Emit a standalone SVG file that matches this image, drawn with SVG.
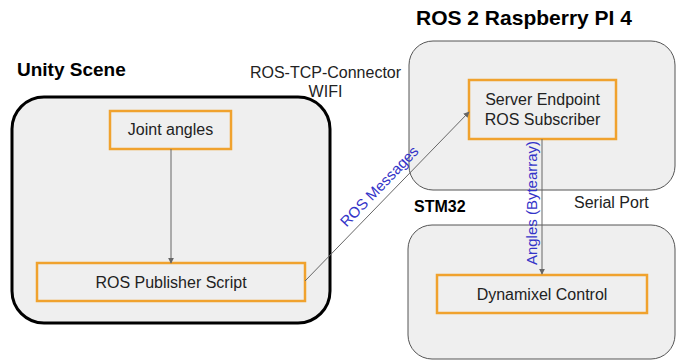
<svg xmlns="http://www.w3.org/2000/svg" width="691" height="362" viewBox="0 0 691 362">
<style>
text{font-family:"Liberation Sans",Arial,sans-serif;fill:#222}
.title{font-weight:bold;fill:#000}
.node rect{fill:#efefef;stroke:#f0a22e;stroke-width:2.5}
.nt{font-size:16px;text-anchor:middle}
.lbl{font-size:16px}
.blue{fill:#3434c8;font-size:15px;text-anchor:middle}
.conn{stroke:#666;stroke-width:1;fill:none;marker-end:url(#ah)}
</style>
<defs>
<marker id="ah" viewBox="0 0 8 8" refX="7" refY="4" markerWidth="6" markerHeight="6" orient="auto" markerUnits="userSpaceOnUse">
<path d="M0,0 L8,4 L0,8 z" fill="#666"/>
</marker>
</defs>
<rect width="691" height="362" fill="#fff"/>
<g id="unity-scene">
<rect x="12" y="97" width="318" height="226" rx="32" fill="#efefef" stroke="#000" stroke-width="3"/>
<text class="title" x="17" y="76" font-size="19">Unity Scene</text>
</g>
<g id="raspberry-pi">
<rect x="409" y="41" width="266" height="149" rx="24" fill="#efefef" stroke="#555" stroke-width="1"/>
<text class="title" x="416" y="25" font-size="21">ROS 2 Raspberry PI 4</text>
</g>
<g id="stm32">
<rect x="408" y="225" width="267" height="134" rx="24" fill="#efefef" stroke="#555" stroke-width="1"/>
<text class="title" x="414" y="212" font-size="16">STM32</text>
</g>
<g id="joint-angles" class="node">
<rect x="110" y="111" width="121" height="38"/>
<text class="nt" x="170.5" y="135">Joint angles</text>
</g>
<g id="ros-publisher" class="node">
<rect x="37" y="263" width="268" height="38"/>
<text class="nt" x="171" y="288">ROS Publisher Script</text>
</g>
<g id="server-endpoint" class="node">
<rect x="469" y="80" width="147" height="59"/>
<text class="nt" x="542.5" y="105">Server Endpoint</text>
<text class="nt" x="542.5" y="125">ROS Subscriber</text>
</g>
<g id="dynamixel" class="node">
<rect x="437" y="275" width="210" height="38"/>
<text class="nt" x="542" y="300">Dynamixel Control</text>
</g>
<g id="connectors">
<line class="conn" x1="171" y1="149" x2="171" y2="263"/>
<line class="conn" x1="305" y1="281" x2="469" y2="112"/>
<line class="conn" x1="542" y1="139" x2="542" y2="274"/>
<text class="blue" font-size="16" transform="translate(383,190) rotate(-46)">ROS Messages</text>
<text class="blue" transform="translate(537,203) rotate(-90)">Angles (Bytearray)</text>
<text class="lbl" x="325.5" y="78" text-anchor="middle">ROS-TCP-Connector</text>
<text class="lbl" x="325.5" y="97" text-anchor="middle">WIFI</text>
<text class="lbl" x="574" y="208">Serial Port</text>
</g>
</svg>
